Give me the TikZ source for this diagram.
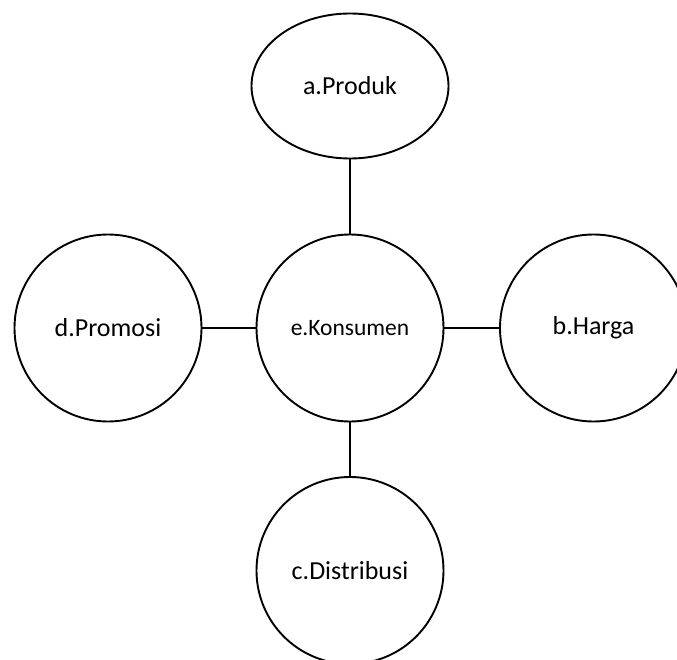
\documentclass[tikz,border=0pt]{standalone}
\usepackage{fontspec}
\setmainfont{Carlito}
\usepackage{tikz}
\usetikzlibrary{shapes.geometric}

\tikzset{
  bigcircle/.style={draw, circle, line width=1.9pt, minimum size=187pt, inner sep=0pt,
    font=\fontsize{26}{30}\selectfont},
  bigellipse/.style={draw, ellipse, line width=1.9pt, minimum width=197pt,
    minimum height=145pt, inner sep=0pt, font=\fontsize{26}{30}\selectfont},
  link/.style={line width=1.9pt}
}

\begin{document}
\begin{tikzpicture}[x=1pt,y=-1pt]
\useasboundingbox (0,0) rectangle (677,660);

% draw the centre and the four outer shapes
\node[bigcircle, font=\fontsize{23.5}{28}\selectfont] (konsumen) at (350,328) {e.Konsumen};
\node[bigellipse] (produk) at (350,86) {a.Produk};
\node[bigcircle] (promosi) at (108,328) {d.Promosi};
\node[bigcircle] (harga) at (593.5,328) {b.Harga};
\node[bigcircle] (distribusi) at (350,570.5) {c.Distribusi};

% draw the links
\foreach \outer in {produk,promosi,harga,distribusi}
\draw[link] (konsumen) -- (\outer);
\end{tikzpicture}
\end{document}
